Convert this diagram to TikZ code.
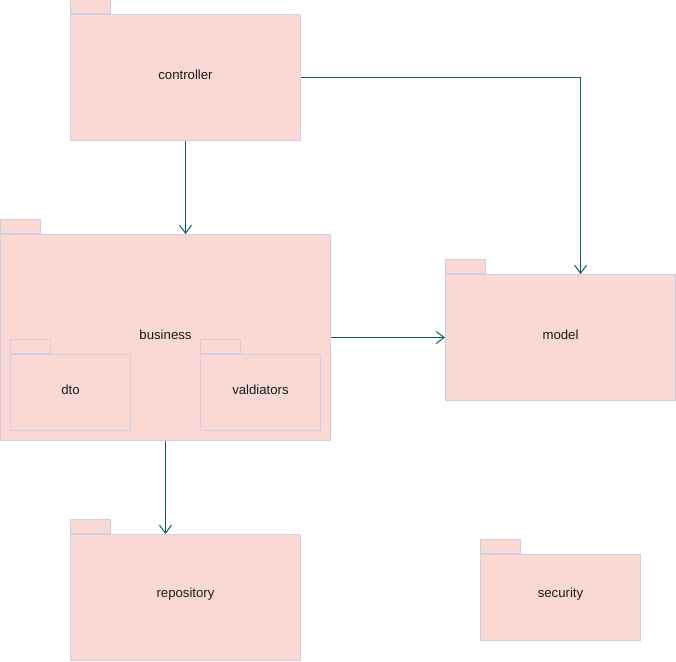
\documentclass[tikz,border=0pt]{standalone}
\usepackage{fontspec}
\setmainfont{Liberation Sans}
\usetikzlibrary{arrows.meta}
\definecolor{pkfill}{HTML}{FAD9D5}
\definecolor{pkline}{HTML}{D0CEE2}
\definecolor{deplink}{HTML}{0B5C5C}
\definecolor{labeltext}{HTML}{1A1A1A}
\tikzset{
  pkgbody/.style={draw=pkline, fill=pkfill, line width=1pt, inner sep=0pt,
    anchor=north west},
  pkgtab/.style={draw=pkline, fill=pkfill, line width=1pt, inner sep=0pt,
    anchor=south west, minimum width=40pt, minimum height=14pt},
  pkglabel/.style={text=labeltext, font=\fontsize{13.2}{15}\selectfont, inner sep=0pt},
  dep/.style={draw=deplink, line width=1pt,
    -{Straight Barb[length=8pt, width=12pt, line width=1pt]}}
}
\begin{document}
\begin{tikzpicture}[x=1pt, y=-1pt]
\useasboundingbox (0,0) rectangle (676,661);

% controller
\node[pkgbody, minimum width=230pt, minimum height=126pt] (controller) at (70,14) {};
\node[pkgtab] (controllertab) at (controller.north west) {};
\node[pkglabel] (controllerlabel) at ([yshift=3pt]controller.center) {controller};

% business with nested dto and valdiators
\node[pkgbody, minimum width=330pt, minimum height=206pt] (business) at (0,234) {};
\node[pkgtab] (businesstab) at (business.north west) {};
\node[pkglabel] (businesslabel) at ([yshift=3pt]business.center) {business};

\node[pkgbody, minimum width=120pt, minimum height=76pt] (dto) at (10,354) {};
\node[pkgtab] (dtotab) at (dto.north west) {};
\node[pkglabel] (dtolabel) at ([yshift=3pt]dto.center) {dto};

\node[pkgbody, minimum width=120pt, minimum height=76pt] (valdiators) at (200,354) {};
\node[pkgtab] (valdiatorstab) at (valdiators.north west) {};
\node[pkglabel] (valdiatorslabel) at ([yshift=3pt]valdiators.center) {valdiators};

% model
\node[pkgbody, minimum width=230pt, minimum height=126pt] (model) at (445,274) {};
\node[pkgtab] (modeltab) at (model.north west) {};
\node[pkglabel] (modellabel) at ([yshift=3pt]model.center) {model};

% repository
\node[pkgbody, minimum width=230pt, minimum height=126pt] (repository) at (70,534) {};
\node[pkgtab] (repositorytab) at (repository.north west) {};
\node[pkglabel] (repositorylabel) at ([yshift=3pt]repository.center) {repository};

% security
\node[pkgbody, minimum width=160pt, minimum height=86pt] (security) at (480,554) {};
\node[pkgtab] (securitytab) at (security.north west) {};
\node[pkglabel] (securitylabel) at ([yshift=3pt]security.center) {security};

% dependencies
\draw[dep] (controller.south) -- (business.north -| controller.south);
\draw[dep] (controller.east) -| ([xshift=20pt]model.north);
\draw[dep] (business.east) -- (model.west |- business.east);
\draw[dep] (business.south) -- (repository.north -| business.south);
\end{tikzpicture}
\end{document}
